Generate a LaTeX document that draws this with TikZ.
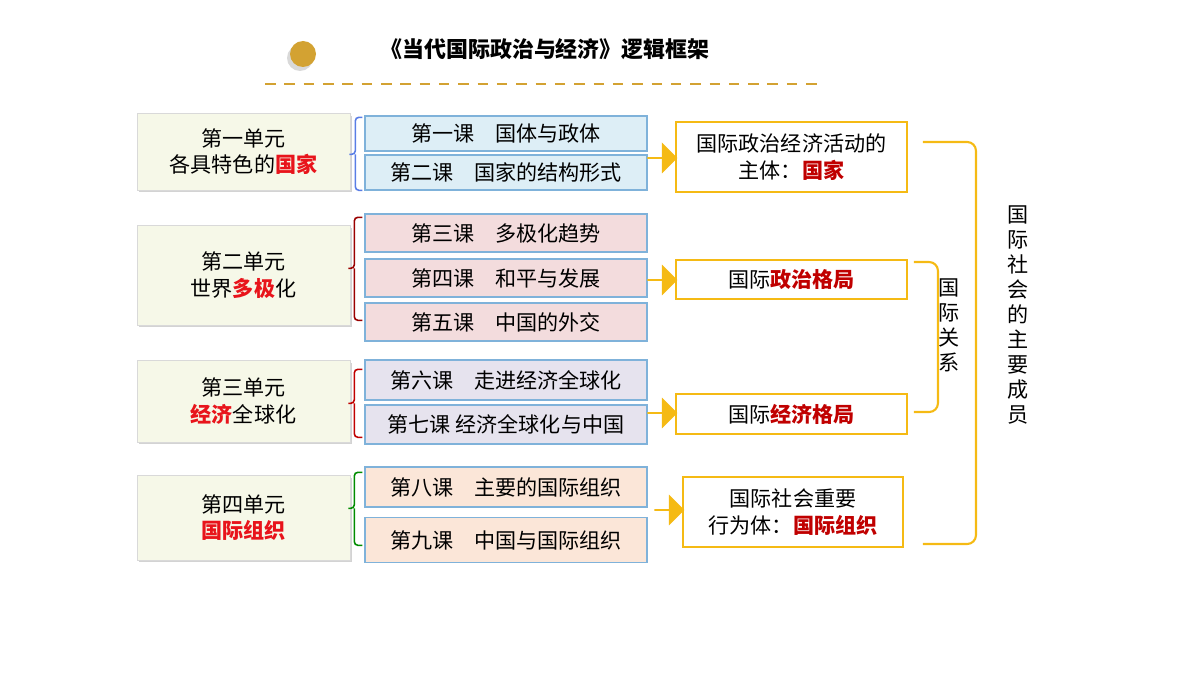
\documentclass[tikz,border=0pt]{standalone}
\usepackage{fontspec}
\setmainfont{Noto Sans CJK SC}
\usetikzlibrary{positioning}
\usetikzlibrary{shapes.arrows}
\usetikzlibrary{shadows}
\definecolor{unitfill}{HTML}{F6F8E8}
\definecolor{blfill}{HTML}{DDEEF6}
\definecolor{pkfill}{HTML}{F3DCDD}
\definecolor{lvfill}{HTML}{E6E3EE}
\definecolor{pcfill}{HTML}{FBE6D8}
\definecolor{lsborder}{HTML}{7FB2DA}
\definecolor{gold}{HTML}{F5BA14}
\definecolor{titlegold}{HTML}{D3A232}
\definecolor{keyred}{HTML}{E8141B}
\definecolor{darkred}{HTML}{C00000}
\begin{document}
\begin{tikzpicture}[x=0.02cm,y=-0.02cm,font=\fontsize{12}{15}\selectfont,
      unit style/.style={rectangle,draw=black!15,fill=unitfill,minimum
        width=4.26cm,align=center,drop shadow={opacity=0.35,shadow xshift=0.04cm,shadow yshift=-0.05cm}},
      lesson style/.style={rectangle,draw=lsborder,thick,minimum width=5.64cm,align=center},
      result style/.style={rectangle,draw=gold,line width=1.1pt,minimum width=4.62cm,align=center},
      fat arrow/.style={single arrow,fill=gold,draw=none,minimum height=0.6cm,
        single arrow head extend=0.12cm,minimum width=0.62cm,inner sep=0pt},
      bracket/.style={line width=0.9pt,rounded corners=2pt},
      gold bracket/.style={draw=gold,line width=1.2pt,rounded corners=5pt}
      ]
      \useasboundingbox (0,0) rectangle (1200,675);
      % title
      \node[circle,fill=titlegold,minimum size=0.52cm,inner sep=0pt,
        drop shadow={opacity=0.3,shadow xshift=-0.06cm,shadow yshift=-0.08cm}] (dot) at (303,54) {};
      \node[font=\fontsize{12.5}{15}\selectfont\bfseries] (title) at (545,49) {《当代国际政治与经济》逻辑框架};
      \coordinate (dl) at (265,84);
      \coordinate (dr) at (825,84);
      \draw[titlegold,line width=1.6pt,dash pattern=on 6pt off 5pt] (dl) -- (dr);

      % units
      \node[unit style,minimum height=1.54cm] (u1) at (243.5,151.5) {第一单元\\各具特色的{\bfseries\color{keyred}国家}};
      \node[unit style,minimum height=2.0cm] (u2) at (243.5,275) {第二单元\\世界{\bfseries\color{keyred}多极}化};
      \node[unit style,minimum height=1.64cm] (u3) at (243.5,401) {第三单元\\{\bfseries\color{keyred}经济}全球化};
      \node[unit style,minimum height=1.7cm] (u4) at (243.5,517.5) {第四单元\\{\bfseries\color{keyred}国际组织}};

      % lessons
      \node[lesson style,fill=blfill,minimum height=0.7cm] (l1) at (506,133.5) {第一课\quad 国体与政体};
      \node[lesson style,fill=blfill,minimum height=0.7cm] (l2) at (506,172.5) {第二课\quad 国家的结构形式};
      \node[lesson style,fill=pkfill,minimum height=0.76cm] (l3) at (506,233) {第三课\quad 多极化趋势};
      \node[lesson style,fill=pkfill,minimum height=0.76cm] (l4) at (506,278) {第四课\quad 和平与发展};
      \node[lesson style,fill=pkfill,minimum height=0.76cm] (l5) at (506,322) {第五课\quad 中国的外交};
      \node[lesson style,fill=lvfill,minimum height=0.8cm] (l6) at (506,380) {第六课\quad 走进经济全球化};
      \node[lesson style,fill=lvfill,minimum height=0.78cm] (l7) at (506,424.5) {第七课\ 经济全球化与中国};
      \node[lesson style,fill=pcfill,minimum height=0.8cm] (l8) at (506,487) {第八课\quad 主要的国际组织};
      \node[lesson style,fill=pcfill,minimum height=0.9cm] (l9) at (506,540) {第九课\quad 中国与国际组织};

      % brackets between units and lessons
      \draw[bracket,draw=lsborder!70!blue] (l1.north west) ++(-2,2) -- ++(-7,0) -- ++(0,37)
        -- ++(-6,0) ++(6,0) -- ++(0,36) -- ++(7,0);
      \draw[bracket,draw=darkred!80!black] (l3.north west) ++(-2,4) -- ++(-8,0) -- ++(0,51)
        -- ++(-6,0) ++(6,0) -- ++(0,52) -- ++(8,0);
      \draw[bracket,draw=darkred] (l6.north west) ++(-2,10) -- ++(-8,0) -- ++(0,34)
        -- ++(-6,0) ++(6,0) -- ++(0,34) -- ++(8,0);
      \draw[bracket,draw=green!55!black] (l8.north west) ++(-2,6) -- ++(-8,0) -- ++(0,36)
        -- ++(-6,0) ++(6,0) -- ++(0,37) -- ++(8,0);

      % results
      \node[result style,minimum height=1.4cm] (r1) at (791.5,157) {国际政治经济活动的\\主体：{\bfseries\color{darkred}国家}};
      \node[result style,minimum height=0.78cm] (r2) at (791.5,279.5) {国际{\bfseries\color{darkred}政治格局}};
      \node[result style,minimum height=0.8cm] (r3) at (791.5,414) {国际{\bfseries\color{darkred}经济格局}};
      \node[result style,minimum width=4.4cm,minimum height=1.4cm] (r4) at (793,512) {国际社会重要\\行为体：{\bfseries\color{darkred}国际组织}};

      % arrows
      \node[fat arrow] (a1) at (662,158) {};
      \node[fat arrow] (a2) at (662,280) {};
      \node[fat arrow] (a3) at (662,413) {};
      \node[fat arrow] (a4) at (669,510) {};

      % right brackets
      \draw[gold bracket] (r2.north east) ++(6,3) -- ++(24,0) -- ++(0,150) -- ++(-24,0);
      \node[align=center,font=\fontsize{12}{14.2}\selectfont] (rel) at (949,325) {国\\际\\关\\系};
      \draw[gold bracket] (r1.east) ++(15,-15) -- ++(53,0) -- ++(0,402) -- ++(-53,0);
      \node[align=center,font=\fontsize{12}{14.2}\selectfont] (memb) at (1018,315) {国\\际\\社\\会\\的\\主\\要\\成\\员};
    \end{tikzpicture}
\end{document}
